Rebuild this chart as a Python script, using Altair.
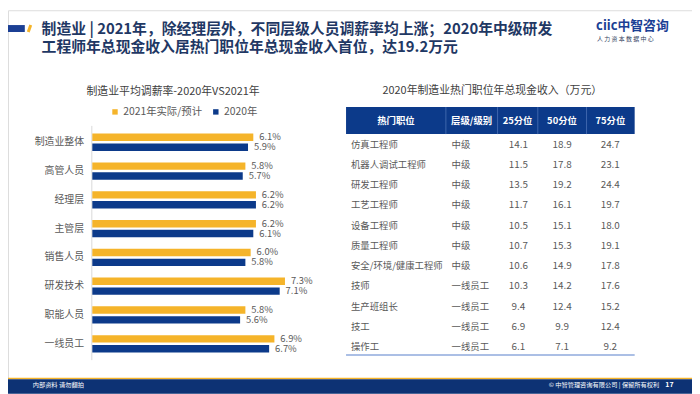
import altair as alt
import pandas as pd

# ---------------- data ----------------
categories = ["制造业整体", "高管人员", "经理层", "主管层", "销售人员", "研发技术", "职能人员", "一线员工"]
rate_2021 = [6.1, 5.8, 6.2, 6.2, 6.0, 7.3, 5.8, 6.9]
rate_2020 = [5.9, 5.7, 6.2, 6.1, 5.8, 7.1, 5.6, 6.7]
series = ["2021年实际/预计", "2020年"]

jobs = ["仿真工程师", "机器人调试工程师", "研发工程师", "工艺工程师", "设备工程师", "质量工程师",
        "安全/环境/健康工程师", "技师", "生产班组长", "技工", "操作工"]
levels = ["中级", "中级", "中级", "中级", "中级", "中级", "中级", "一线员工", "一线员工", "一线员工", "一线员工"]
p25 = [14.1, 11.5, 13.5, 11.7, 10.5, 10.7, 10.6, 10.3, 9.4, 6.9, 6.1]
p50 = [18.9, 17.8, 19.2, 16.1, 15.1, 15.3, 14.9, 14.2, 12.4, 9.9, 7.1]
p75 = [24.7, 23.1, 24.4, 19.7, 18.0, 19.1, 17.8, 17.6, 15.2, 12.4, 9.2]
headers = ["热门职位", "层级/级别", "25分位", "50分位", "75分位"]

title_text = "制造业 | 2021年，除经理层外，不同层级人员调薪率均上涨；2020年中级研发\n工程师年总现金收入居热门职位年总现金收入首位，达19.2万元"
bar_title = "制造业平均调薪率-2020年VS2021年"
table_title = "2020年制造业热门职位年总现金收入（万元）"
footer_left = "内部资料  请勿翻拍"
footer_right = "© 中智管理咨询有限公司 | 保留所有权利"
page_no = "17"
logo_main = "ciic中智咨询"
logo_sub = "人 力 资 本 数 据 中 心"

# ---------------- styling ----------------
FONT = "Noto Sans CJK SC"
NAVY = "#0c3a8a"
YELLOW = "#f5b42a"
GRAY = "#595959"
TITLE_C = "#1f3864"
O = 8  # page margin offset


def X(v):
    return v - O


def Y(v):
    return v - O


def one(**kw):
    return pd.DataFrame([kw]) if kw else pd.DataFrame([{"k": 0}])


# ---------------- decorations ----------------
deco_blue = alt.Chart(one()).mark_rect(color="#1b3f94").encode(
    x=alt.value(X(0) - 2), x2=alt.value(X(25)), y=alt.value(Y(23)), y2=alt.value(Y(30)))
deco_yellow = alt.Chart(one()).mark_rule(color=YELLOW, strokeWidth=3).encode(
    x=alt.value(X(31)), x2=alt.value(X(28.5)), y=alt.value(Y(23)), y2=alt.value(Y(30)))

title = alt.Chart(one(t=title_text)).mark_text(
    align="left", baseline="middle", font=FONT, fontSize=15, fontWeight="bold",
    color=TITLE_C, lineBreak="\n", lineHeight=18).encode(
    text="t:N", x=alt.value(X(42)), y=alt.value(Y(27)))

logo1 = alt.Chart(one(t=logo_main)).mark_text(
    align="left", baseline="middle", font=FONT, fontSize=13, fontWeight="bold",
    color="#1b3f94").encode(text="t:N", x=alt.value(X(603)), y=alt.value(Y(24)))
logo2 = alt.Chart(one(t=logo_sub)).mark_text(
    align="left", baseline="middle", font=FONT, fontSize=6, color="#333f60").encode(
    text="t:N", x=alt.value(X(604)), y=alt.value(Y(37.5)))

footer_line = alt.Chart(one()).mark_rule(color=YELLOW, strokeWidth=1.5).encode(
    x=alt.value(X(0) - 2), x2=alt.value(X(702)), y=alt.value(Y(380.5)))
footer_band = alt.Chart(one()).mark_rect(color="#0d3274").encode(
    x=alt.value(X(0) - 2), x2=alt.value(X(702)), y=alt.value(Y(381.3)), y2=alt.value(Y(396)))
foot_l = alt.Chart(one(t=footer_left)).mark_text(
    align="left", baseline="middle", font=FONT, fontSize=6.3, color="white").encode(
    text="t:N", x=alt.value(X(33)), y=alt.value(Y(387.5)))
foot_r = alt.Chart(one(t=footer_right)).mark_text(
    align="left", baseline="middle", font=FONT, fontSize=6.3, color="white").encode(
    text="t:N", x=alt.value(X(555)), y=alt.value(Y(387.5)))
foot_p = alt.Chart(one(t=page_no)).mark_text(
    align="left", baseline="middle", font=FONT, fontSize=7, fontWeight="bold", color="white").encode(
    text="t:N", x=alt.value(X(673)), y=alt.value(Y(387.5)))

# ---------------- bar chart ----------------
bar_df = pd.DataFrame({
    "category": categories * 2,
    "series": [series[0]] * len(categories) + [series[1]] * len(categories),
    "value": rate_2021 + rate_2020,
})
bar_df["label"] = bar_df["value"].map(lambda v: f"{v:.1f}%")

ysc = alt.Scale(domain=categories, range=[Y(127), Y(360)], paddingInner=0.4, paddingOuter=0.2)
xsc = alt.Scale(domain=[0, 10], range=[X(93.3), X(93.3) + 267])
yoff = alt.YOffset("series:N", sort=series,
                   scale=alt.Scale(domain=series, paddingInner=0.25, paddingOuter=0))

bars = alt.Chart(bar_df).mark_bar().encode(
    y=alt.Y("category:N", sort=categories, scale=ysc, axis=None),
    yOffset=yoff,
    x=alt.X("value:Q", scale=xsc, axis=None, stack=None),
    color=alt.Color("series:N", sort=series,
                    scale=alt.Scale(domain=series, range=[YELLOW, NAVY]),
                    legend=alt.Legend(orient="none", legendX=X(111), legendY=Y(105.5),
                                      direction="horizontal", title=None, symbolType="square",
                                      symbolSize=30, symbolStrokeWidth=0, labelFont=FONT,
                                      labelFontSize=10.5, labelColor=GRAY, columnPadding=8,
                                      labelOffset=3)),
)
bar_labels = alt.Chart(bar_df).mark_text(
    align="left", baseline="middle", dx=6, font=FONT, fontSize=9.5, color=GRAY).encode(
    y=alt.Y("category:N", sort=categories, scale=ysc, axis=None),
    yOffset=yoff,
    x=alt.X("value:Q", scale=xsc, axis=None, stack=None),
    text="label:N",
)
cat_df = pd.DataFrame({"category": categories})
cat_labels = alt.Chart(cat_df).mark_text(
    align="right", baseline="middle", font=FONT, fontSize=10, color=GRAY).encode(
    y=alt.Y("category:N", sort=categories, scale=ysc, axis=None),
    x=alt.value(X(85)),
    text="category:N",
)
axis_line = alt.Chart(one()).mark_rule(color="#d9d9d9", strokeWidth=1).encode(
    x=alt.value(X(92.8)), y=alt.value(Y(125)), y2=alt.value(Y(362)))
bar_t = alt.Chart(one(t=bar_title)).mark_text(
    align="center", baseline="middle", font=FONT, fontSize=11, color="#404040").encode(
    text="t:N", x=alt.value(X(175)), y=alt.value(Y(90.5)))

bar_group = alt.layer(axis_line, bars, bar_labels, cat_labels)

# ---------------- table ----------------
ci = list(range(len(headers)))
tab_t = alt.Chart(one(t=table_title)).mark_text(
    align="center", baseline="middle", font=FONT, fontSize=11, color="#404040").encode(
    text="t:N", x=alt.value(X(498)), y=alt.value(Y(90)))

head_rect = alt.Chart(one()).mark_rect(color=NAVY).encode(
    x=alt.value(X(350)), x2=alt.value(X(642)), y=alt.value(Y(106)), y2=alt.value(Y(133.3)))
sep_df = pd.DataFrame({"ci": ci[1:]})
head_sep = alt.Chart(sep_df).mark_rule(color="#3f66ad", strokeWidth=1).encode(
    x=alt.X("ci:Q", scale=alt.Scale(domain=ci[1:], range=[X(451), X(503.3), X(544), X(593.3)]),
            axis=None),
    y=alt.value(Y(106)), y2=alt.value(Y(133.3)))
head_df = pd.DataFrame({"col": headers, "ci": ci})
head_txt = alt.Chart(head_df).mark_text(
    align="center", baseline="middle", font=FONT, fontSize=9.5, fontWeight="bold", color="white").encode(
    x=alt.X("ci:Q", scale=alt.Scale(domain=ci, range=[X(400.5), X(477), X(523.5), X(568.5), X(617.5)]),
            axis=None),
    y=alt.value(Y(120)),
    text="col:N")

rows = []
for j, lv, a, b, c in zip(jobs, levels, p25, p50, p75):
    for k, t in enumerate([j, lv, f"{a:.1f}", f"{b:.1f}", f"{c:.1f}"]):
        rows.append({"row": j, "ci": k, "text": t})
body_df = pd.DataFrame(rows)
rsc = alt.Scale(domain=jobs, range=[Y(144), Y(349)], padding=0)

body_left = alt.Chart(body_df).transform_filter("datum.ci < 2").mark_text(
    align="left", baseline="middle", font=FONT, fontSize=9.5, color=GRAY).encode(
    x=alt.X("ci:Q", scale=alt.Scale(domain=[0, 1], range=[X(355), X(456.7)]), axis=None),
    y=alt.Y("row:N", sort=jobs, scale=rsc, axis=None),
    text="text:N")
body_num = alt.Chart(body_df).transform_filter("datum.ci >= 2").mark_text(
    align="center", baseline="middle", font=FONT, fontSize=10, color=GRAY).encode(
    x=alt.X("ci:Q", scale=alt.Scale(domain=[2, 3, 4], range=[X(524.3), X(568.7), X(617.3)]),
            axis=None),
    y=alt.Y("row:N", sort=jobs, scale=rsc, axis=None),
    text="text:N")
bottom_line = alt.Chart(one()).mark_rule(color="#8faadc", strokeWidth=1.5).encode(
    x=alt.value(X(350)), x2=alt.value(X(642)), y=alt.value(Y(356.7)))

chart = alt.layer(
    deco_blue, deco_yellow, title, logo1, logo2,
    bar_t, bar_group,
    tab_t, head_rect, head_sep, head_txt, body_left, body_num, bottom_line,
    footer_line, footer_band, foot_l, foot_r, foot_p,
).resolve_scale(x="independent", y="independent", color="independent").properties(
    width=692, height=386, autosize=alt.AutoSizeParams(type="none"), padding=0,
).configure_view(stroke=None).configure(background="white")

chart.save("out.html", embed_options={"renderer": "svg", "actions": False})
